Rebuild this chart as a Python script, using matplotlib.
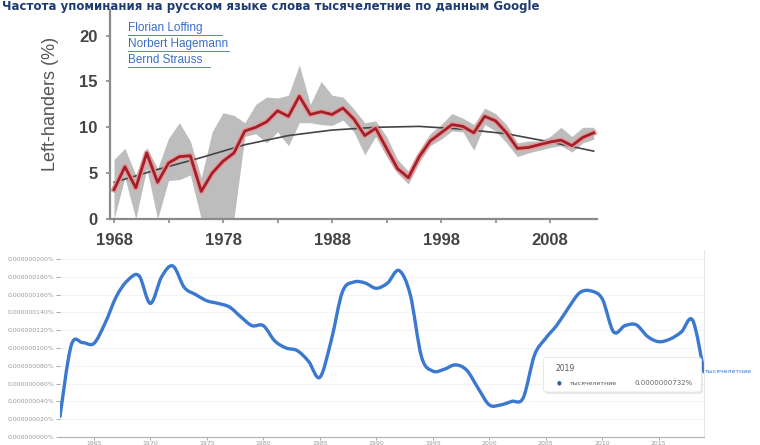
import numpy as np
import matplotlib
matplotlib.use("Agg")
import matplotlib.pyplot as plt
import matplotlib.patheffects as pe
from matplotlib.patches import FancyBboxPatch, PathPatch
from matplotlib.path import Path

# --- верхний график: доля левшей (%)
years_lh = list(range(1968, 2013))
left_handers = [3.2, 5.7, 3.4, 7.2, 4.0, 6.1, 6.8, 6.9, 3.0, 5.0, 6.3, 7.2,
                9.6, 10.0, 10.6, 11.8, 11.2, 13.4, 11.4, 11.7, 11.4, 12.1,
                10.9, 9.1, 9.9, 7.7, 5.5, 4.5, 6.8, 8.5, 9.4, 10.3,
                10.1, 9.4, 11.2, 10.7, 9.4, 7.7, 7.8, 8.1, 8.4, 8.6, 8.0, 8.9, 9.4]
band_low = [0, 4.5, 0, 5.5, 0, 4.2, 4.3, 4.8, 0, 0, 0, 0,
            9.0, 9.3, 8.3, 9.5, 8.0, 10.5, 10.5, 10.3, 10.2, 10.8,
            9.5, 7.0, 9.0, 6.8, 5.0, 3.8, 6.2, 8.0, 8.7, 9.6,
            9.5, 7.5, 10.3, 9.6, 8.3, 6.8, 7.2, 7.5, 7.8, 8.0, 7.3, 8.3, 8.7]
band_high = [6.5, 7.7, 4.8, 7.8, 5.5, 8.8, 10.5, 8.5, 4.5, 9.5, 11.6, 11.3,
             10.5, 12.5, 13.3, 13.2, 13.5, 16.8, 12.5, 15.0, 13.5, 13.3,
             12.0, 10.5, 10.7, 9.0, 6.5, 5.2, 7.5, 9.3, 10.3, 11.5,
             11.0, 10.3, 12.1, 11.5, 10.3, 8.3, 8.5, 8.5, 9.0, 10.0, 9.0, 10.0, 10.0]
trend_years = [1968, 1972, 1976, 1980, 1984, 1988, 1992, 1996, 2000, 2004, 2008, 2012]
trend_vals = [4.0, 5.4, 6.7, 8.1, 9.1, 9.7, 10.0, 10.1, 9.8, 9.3, 8.4, 7.4]
authors = ["Florian Loffing", "Norbert Hagemann", "Bernd Strauss"]

# --- нижний график: Google Ngram (в миллиардных долях процента)
years_ng = list(range(1962, 2020))
ngram = [23, 103, 106, 105, 128, 158, 176, 181, 150, 180,
         192, 168, 160, 153, 150, 146, 135, 125, 125, 108,
         100, 97, 85, 67, 108, 163, 174, 173, 167, 173,
         187, 160, 90, 74, 76, 81, 75, 55, 36, 36,
         40, 44, 92, 111, 126, 145, 162, 164, 155, 118,
         125, 126, 113, 107, 110, 118, 131, 73.2]
ng_ticks = list(range(0, 201, 20))
ng_xticks = list(range(1965, 2016, 5))
word = "тысячелетние"


def smooth_path(xs, ys):
    # кривая Катмулла-Рома через точки данных (как рисует Ngram Viewer)
    p = np.column_stack([xs, ys]).astype(float)
    n = len(p)
    verts = [p[0]]
    for i in range(n - 1):
        p0 = p[max(i - 1, 0)]
        p1 = p[i]
        p2 = p[i + 1]
        p3 = p[min(i + 2, n - 1)]
        verts += [p1 + (p2 - p0) / 6, p2 - (p3 - p1) / 6, p2]
    codes = [Path.MOVETO] + [Path.CURVE4] * (3 * (n - 1))
    return Path(verts, codes)


fig = plt.figure(figsize=(7.6, 4.45), dpi=100)

# заголовок
fig.text(0.002, 0.999, "Частота упоминания на русском языке слова " + word + " по данным Google",
         ha="left", va="top", fontsize=8.5, fontweight="bold", color="#1f3b73")

# ---------- верхний график
ax = fig.add_axes([0.1447, 0.5079, 0.6408, 0.4697])
ax.fill_between(years_lh, band_low, band_high, color="#bdbdbd", lw=0)
ax.plot(trend_years, trend_vals, color="#454545", lw=1.2)
ax.plot(years_lh, left_handers, color="#a3202a", lw=2.0, solid_joinstyle="round",
        path_effects=[pe.Stroke(linewidth=4.0, foreground="#e59a9a"), pe.Normal()])

ax.set_xlim(1967.63, 2012.3)
ax.set_ylim(0, 22.8)
ax.set_yticks([0, 5, 10, 15, 20])
ax.set_xticks([1968, 1978, 1988, 1998, 2008])
ax.set_xticks([1973, 1983, 1993, 2003], minor=True)
for s in ["top", "right"]:
    ax.spines[s].set_visible(False)
for s in ["left", "bottom"]:
    ax.spines[s].set_color("#8a8a8a")
    ax.spines[s].set_linewidth(1.6)
ax.tick_params(axis="both", which="both", colors="#8a8a8a", length=3, width=1.2)
ax.tick_params(axis="y", pad=6)
ax.tick_params(axis="x", pad=7)
for lab in ax.get_xticklabels() + ax.get_yticklabels():
    lab.set_fontsize(12)
    lab.set_fontweight("bold")
    lab.set_color("#444444")
    lab.set_family("Liberation Sans")
ax.set_ylabel("Left-handers (%)", fontsize=13, color="#555555",
              family=["Liberation Sans Narrow", "Liberation Sans"])
ax.yaxis.set_label_coords(-0.105, 0.55)

for i, name in enumerate(authors):
    ax.text(0.036, 0.915 - i * 0.078, name, transform=ax.transAxes, fontsize=8.5,
            color="#3a6fc4", ha="left", va="center",
            family=["Liberation Sans Narrow", "Liberation Sans"])
    ax.plot([0.036, 0.036 + 0.013 * len(name)], [0.915 - i * 0.078 - 0.033] * 2,
            transform=ax.transAxes, color="#3a6fc4", lw=0.6)

# ---------- нижний график
ax2 = fig.add_axes([0.0789, 0.018, 0.8474, 0.4202])
ax2.add_patch(PathPatch(smooth_path(years_ng, ngram), fill=False, edgecolor="#3b78d0",
                        lw=2.4, joinstyle="round", capstyle="round"))
ax2.set_xlim(1962, 2019)
ax2.set_ylim(0, 210)
ax2.set_yticks(ng_ticks)
ax2.set_yticklabels([f"{v * 1e-9:.9f}%" for v in ng_ticks])
ax2.set_xticks(ng_xticks)
ax2.grid(axis="y", color="#f2f2f2", lw=0.6)
ax2.set_axisbelow(True)
for s in ["top", "left"]:
    ax2.spines[s].set_visible(False)
ax2.spines["right"].set_color("#e6e6e6")
ax2.spines["right"].set_linewidth(0.8)
ax2.spines["bottom"].set_color("#b0b0b0")
ax2.spines["bottom"].set_linewidth(0.8)
ax2.tick_params(axis="y", labelsize=4.5, colors="#9a9a9a", length=3, width=0.6, pad=1)
ax2.tick_params(axis="x", labelsize=4.5, colors="#9a9a9a", length=2, width=0.6, pad=1)

# подпись конца линии
ax2.text(2019.1, ngram[-1], word, fontsize=4.5, color="#3b78d0", ha="left",
         va="center", clip_on=False)

# всплывающая подсказка
box = FancyBboxPatch((0.717, 0.121), 0.204, 0.074, boxstyle="round,pad=0.002,rounding_size=0.006",
                     transform=fig.transFigure, facecolor="white", edgecolor="#e4e4e4",
                     lw=0.6, zorder=5)
box.set_path_effects([pe.SimplePatchShadow(offset=(1, -1.5), alpha=0.12), pe.Normal()])
fig.add_artist(box)
fig.text(0.731, 0.172, str(years_ng[-1]), fontsize=5.5, color="#555555", va="center", zorder=6)
fig.text(0.7355, 0.139, "\u25cf", fontsize=4, color="#2f5fa8", ha="center", va="center", zorder=6)
fig.text(0.750, 0.139, word, fontsize=4.5, color="#555555", va="center", zorder=6)
fig.text(0.912, 0.139, f"{ngram[-1] * 1e-9:.10f}%", fontsize=5, color="#666666",
         ha="right", va="center", zorder=6)

plt.savefig("out.png", dpi=100)
